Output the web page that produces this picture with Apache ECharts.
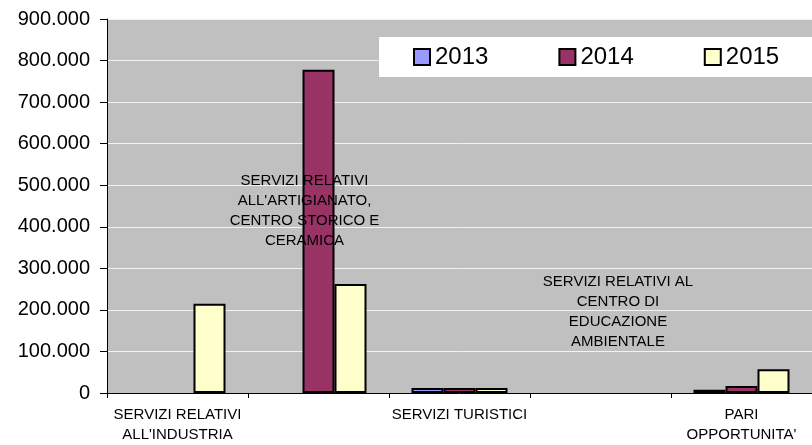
<!DOCTYPE html>
<html>
<head>
<meta charset="utf-8">
<script src="https://cdn.jsdelivr.net/npm/echarts@6/dist/echarts.min.js"></script>
<style>
  html, body { margin: 0; padding: 0; background: #fff; }
  #chart { width: 812px; height: 445px; }
</style>
</head>
<body>
<div id="chart"></div>
<script>
const categories = [
  "SERVIZI RELATIVI\nALL'INDUSTRIA",
  "SERVIZI RELATIVI\nALL'ARTIGIANATO,\nCENTRO STORICO E\nCERAMICA",
  "SERVIZI TURISTICI",
  "SERVIZI RELATIVI AL\nCENTRO DI\nEDUCAZIONE\nAMBIENTALE",
  "PARI\nOPPORTUNITA'"
]
const years = ['2013', '2014', '2015']
// celle vuote nel foglio: null (nessuna barra)
const values2013 = [null, null, 12000, null, 8000]
const values2014 = [null, 778000, 12000, null, 17000]
const values2015 = [215000, 262000, 12000, null, 57000]
const colors = ['#9999ff', '#993366', '#ffffcc']

const font = "'Liberation Sans', Arial, sans-serif"

// numeri con il punto delle migliaia (900.000)
const fmt = (v) => String(v).replace(/\B(?=(\d{3})+(?!\d))/g, '.')

const chart = echarts.init(document.getElementById('chart'), null, { renderer: 'canvas' })

const labelAxis = (idx, offset, padding) => ({
  type: 'category',
  gridIndex: 0,
  position: 'bottom',
  offset: offset,
  z: 10,
  data: categories,
  axisLine: { show: false },
  axisTick: { show: false },
  splitLine: { show: false },
  axisLabel: {
    interval: 0,
    margin: 12,
    fontSize: 15,
    lineHeight: 20,
    fontFamily: font,
    color: '#000',
    padding: padding,
    formatter: (value, index) => (index === idx ? value : '')
  }
})

const series = [values2013, values2014, values2015].map((vals, i) => ({
  name: years[i],
  type: 'bar',
  xAxisIndex: 0,
  data: vals,
  barWidth: 32,
  barGap: '0%',
  itemStyle: {
    color: colors[i],
    borderColor: '#000',
    borderWidth: 2
  }
}))

chart.setOption({
  animation: false,
  backgroundColor: '#fff',
  grid: {
    left: 107,
    right: -5,
    top: 19,
    bottom: 51,
    show: true,
    backgroundColor: '#c0c0c0',
    borderWidth: 0
  },
  legend: {
    left: 379,
    top: 37,
    width: 420,
    padding: [8, 50, 8, 34],
    backgroundColor: '#fff',
    itemWidth: 16,
    itemHeight: 16,
    itemGap: 70,
    icon: 'rect',
    itemStyle: { borderColor: '#000', borderWidth: 2 },
    textStyle: { fontSize: 24, fontFamily: font, color: '#000' },
    data: years
  },
  xAxis: [
    {
      type: 'category',
      data: categories,
      axisLine: { lineStyle: { color: '#000', width: 1 } },
      axisTick: { show: true, length: 5, lineStyle: { color: '#000' } },
      axisLabel: {
        interval: 0,
        margin: 12,
        fontSize: 15,
        lineHeight: 20,
        fontFamily: font,
        color: '#000',
        formatter: (value, index) => (index % 2 === 0 ? value : '')
      }
    },
    labelAxis(1, -234, [0, 28, 0, 0]),
    labelAxis(3, -133, [0, 0, 0, 35])
  ],
  yAxis: {
    type: 'value',
    min: 0,
    max: 900000,
    interval: 100000,
    axisLine: { show: true, lineStyle: { color: '#000', width: 1 } },
    axisTick: { show: true, length: 7, lineStyle: { color: '#000' } },
    axisLabel: {
      margin: 17,
      fontSize: 20,
      fontFamily: font,
      color: '#000',
      formatter: fmt
    },
    splitLine: { lineStyle: { color: '#f2f2f2', width: 1 } }
  },
  series: series
})
</script>
</body>
</html>
